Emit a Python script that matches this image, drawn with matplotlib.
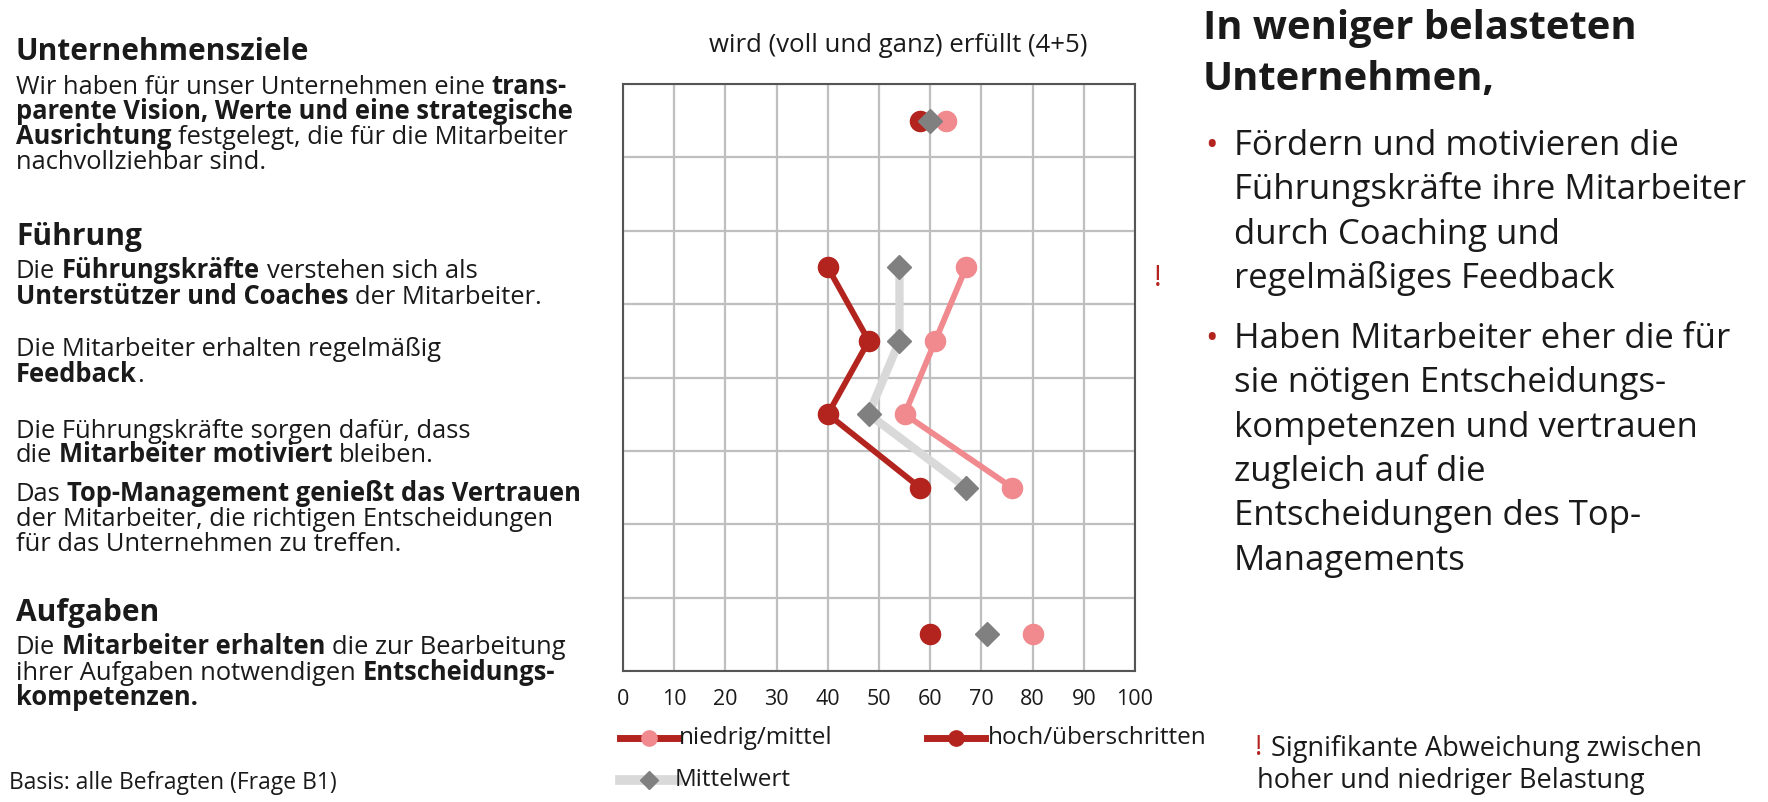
import numpy as np
import matplotlib
matplotlib.use("Agg")
import matplotlib.pyplot as plt
from matplotlib.lines import Line2D

plt.rcParams['font.family'] = ['Open Sans', 'DejaVu Sans']

# ── data ──
rows = [0, 2, 3, 4, 5, 7]                 # row index (top = 0), 8 rows in total
niedrig = [63, 67, 61, 55, 76, 80]        # Belastung niedrig/mittel
hoch = [58, 40, 48, 40, 58, 60]           # Belastung hoch/überschritten
mittel = [60, 54, 54, 48, 67, 71]         # Mittelwert
linked = slice(1, 5)                      # the Führung items are joined by lines
xticks = list(range(0, 101, 10))

DARKRED = "#b3241e"
PINK = "#f08a8e"
GREY = "#808080"
LGREY = "#d9d9d9"
TEXT = "#1a1a1a"

W, H = 1768, 802
fig = plt.figure(figsize=(W / 100, H / 100), dpi=100)
renderer = fig.canvas.get_renderer()


def px(x, y):
    return x / W, 1 - y / H


def rich(x, y, parts, size, color=TEXT):
    """Draw a line of mixed normal/bold runs, x/y in pixels, y = baseline."""
    cx = x
    for s, bold in parts:
        w = "bold" if bold else "normal"
        a = fig.text(0, 0, "x x", fontsize=size, fontweight=w)
        b = fig.text(0, 0, "xx", fontsize=size, fontweight=w)
        sp = a.get_window_extent(renderer).width - b.get_window_extent(renderer).width
        a.remove()
        b.remove()
        lead = len(s) - len(s.lstrip(" "))
        trail = len(s) - len(s.rstrip(" "))
        cx += lead * sp
        t = fig.text(*px(cx, y), s.strip(" "), fontsize=size, fontweight=w,
                     color=color, va="baseline", ha="left")
        cx += t.get_window_extent(renderer).width + trail * sp


# ── chart ──
ax = fig.add_axes([623 / W, 1 - 671 / H, 512 / W, 587 / H])
ax.plot(mittel[linked], rows[linked], color=LGREY, lw=6, zorder=2)
ax.plot(niedrig[linked], rows[linked], color=PINK, lw=4.2, zorder=3)
ax.plot(hoch[linked], rows[linked], color=DARKRED, lw=4.2, zorder=3)
ax.plot(niedrig, rows, "o", ms=14.5, color=PINK, ls="none", zorder=4)
ax.plot(hoch, rows, "o", ms=14.5, color=DARKRED, ls="none", zorder=4)
ax.plot(mittel, rows, "D", ms=12.5, color=GREY, ls="none", zorder=5)

ax.set_xlim(0, 100)
ax.set_ylim(7.5, -0.5)
ax.set_xticks(xticks)
ax.set_xticklabels([str(v) for v in xticks], fontsize=15.5, color=TEXT)
ax.set_yticks(np.arange(-0.5, 8, 1))
ax.set_yticklabels([])
ax.tick_params(length=0, pad=13)
ax.grid(True, color="#bfbfbf", lw=1.6, zorder=0)
ax.set_axisbelow(True)
for sp in ax.spines.values():
    sp.set_color("#555555")
    sp.set_linewidth(1.5)

fig.text(*px(898, 52), "wird (voll und ganz) erfüllt (4+5)", fontsize=18.5,
         color=TEXT, ha="center", va="baseline")
fig.text(*px(1158, 278), "!", fontsize=21, color=DARKRED, ha="center", va="center")

# ── legend ──
for (x0, y0, lc, lw, mk, mc, ms, tx, label) in [
    (620, 738, DARKRED, 5, "o", PINK, 11, 679, "niedrig/mittel"),
    (927, 738, DARKRED, 5, "o", DARKRED, 11, 988, "hoch/überschritten"),
    (620, 780, LGREY, 7, "D", GREY, 9, 675, "Mittelwert"),
]:
    fig.add_artist(Line2D([x0 / W, (x0 + 58) / W], [1 - y0 / H] * 2, color=lc, lw=lw,
                          transform=fig.transFigure))
    fig.add_artist(Line2D([(x0 + 29) / W], [1 - y0 / H], marker=mk, ms=ms, color=mc,
                          ls="none", transform=fig.transFigure))
    fig.text(*px(tx, y0), label, fontsize=17.5, color=TEXT, ha="left", va="center")

fig.text(*px(1259, 748), "!", fontsize=20, color=DARKRED, ha="center", va="center")
fig.text(*px(1271, 749), "Signifikante Abweichung zwischen", fontsize=19.5,
         color=TEXT, ha="left", va="center")
fig.text(*px(1257, 781), "hoher und niedriger Belastung", fontsize=19.5,
         color=TEXT, ha="left", va="center")

# ── left column ──
N, B = False, True
HEAD = 21.5
BODY = 18.4
rich(16, 60, [("Unternehmensziele", B)], HEAD)
rich(16, 94, [("Wir haben für unser Unternehmen eine ", N), ("trans-", B)], BODY)
rich(16, 119, [("parente Vision, Werte und eine strategische", B)], BODY)
rich(16, 144, [("Ausrichtung", B), (" festgelegt, die für die Mitarbeiter", N)], BODY)
rich(16, 169, [("nachvollziehbar sind.", N)], BODY)

rich(16, 245, [("Führung", B)], HEAD)
rich(16, 278, [("Die ", N), ("Führungskräfte", B), (" verstehen sich als", N)], BODY)
rich(16, 304, [("Unterstützer und Coaches", B), (" der Mitarbeiter.", N)], BODY)
rich(16, 356, [("Die Mitarbeiter erhalten regelmäßig", N)], BODY)
rich(16, 382, [("Feedback", B), (".", N)], BODY)
rich(16, 438, [("Die Führungskräfte sorgen dafür, dass", N)], BODY)
rich(16, 462, [("die ", N), ("Mitarbeiter motiviert", B), (" bleiben.", N)], BODY)
rich(16, 501, [("Das ", N), ("Top-Management genießt das Vertrauen", B)], BODY)
rich(16, 526, [("der Mitarbeiter, die richtigen Entscheidungen", N)], BODY)
rich(16, 551, [("für das Unternehmen zu treffen.", N)], BODY)

rich(16, 621, [("Aufgaben", B)], HEAD)
rich(16, 654, [("Die ", N), ("Mitarbeiter erhalten", B), (" die zur Bearbeitung", N)], BODY)
rich(16, 680, [("ihrer Aufgaben notwendigen ", N), ("Entscheidungs-", B)], BODY)
rich(16, 705, [("kompetenzen.", B)], BODY)

rich(9, 789, [("Basis: alle Befragten (Frage B1)", N)], 16.5)

# ── right column ──
rich(1203, 39, [("In weniger belasteten", B)], 28.7)
rich(1203, 90, [("Unternehmen,", B)], 28.7)
bullets = [
    ["Fördern und motivieren die", "Führungskräfte ihre Mitarbeiter",
     "durch Coaching und", "regelmäßiges Feedback"],
    ["Haben Mitarbeiter eher die für", "sie nötigen Entscheidungs-",
     "kompetenzen und vertrauen", "zugleich auf die",
     "Entscheidungen des Top-", "Managements"],
]
starts = [155, 348]
for start, item in zip(starts, bullets):
    fig.text(*px(1212, start), "•", fontsize=24, color=DARKRED, ha="center", va="baseline")
    for i, line in enumerate(item):
        rich(1234, start + i * 44.3, [(line, N)], 25)

fig.savefig("out.png", dpi=100)
